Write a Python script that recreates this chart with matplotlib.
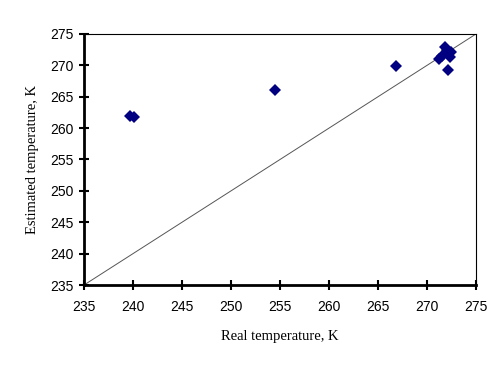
import numpy as np
import matplotlib.pyplot as plt

# values
real_temp = [239.7, 240.1, 254.5, 266.8, 271.2, 271.5, 271.8, 272.0, 272.2, 272.3, 272.4, 272.1]
est_temp = [261.9, 261.7, 266.1, 269.9, 271.0, 271.5, 273.0, 272.5, 271.9, 271.4, 272.1, 269.3]
ticks = np.arange(235, 276, 5)

fig = plt.figure(figsize=(5, 3.67), dpi=100)
ax = fig.add_axes([0.168, 0.2234, 0.784, 0.684])

# 1:1 line
ax.plot([235, 275], [235, 275], color='#555555', linewidth=0.7)
ax.plot(real_temp, est_temp, 'D', color='#000080', markersize=5.8, markeredgewidth=0)

ax.set_xlim(235, 275)
ax.set_ylim(235, 275)
ax.set_xticks(ticks)
ax.set_yticks(ticks)

for side in ['left', 'bottom']:
    ax.spines[side].set_linewidth(2)
for side in ['top', 'right']:
    ax.spines[side].set_linewidth(0.8)
ax.tick_params(direction='inout', length=7, width=1.5, labelsize=10,
               top=False, right=False)
ax.tick_params(axis='x', pad=7)
ax.tick_params(axis='y', pad=4)
for lab in ax.get_xticklabels() + ax.get_yticklabels():
    lab.set_family('Liberation Sans')

ax.set_xlabel('Real temperature, K', family='Liberation Serif', fontsize=10.5, labelpad=12)
ax.set_ylabel('Estimated temperature, K', family='Liberation Serif', fontsize=10.5, labelpad=8)

fig.savefig('out.png', dpi=100)
